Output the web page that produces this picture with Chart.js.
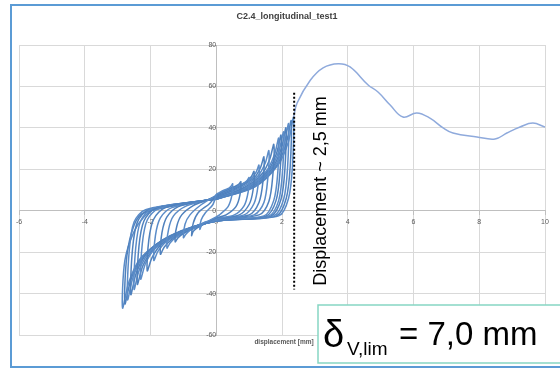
<!DOCTYPE html>
<html>
<head>
<meta charset="utf-8">
<script src="https://cdn.jsdelivr.net/npm/chart.js@4/dist/chart.umd.min.js"></script>
<style>
  html, body { margin: 0; padding: 0; background: #fff; }
  canvas { display: block; }
</style>
</head>
<body>
<canvas id="loopChart" width="560" height="370"></canvas>
<script>
// Zyklen (Weg in mm, Kraft in kN)
var loopDisp = [
  [0, 0.25, 0.4, 0.46, 0.5, 0.47, 0.36, 0.1, 0, -0.25, -0.4, -0.46, -0.5, -0.46, -0.33, -0.1, 0],
  [0, 0.38, 0.6, 0.7, 0.75, 0.72, 0.6, 0.3, 0, -0.38, -0.6, -0.7, -0.75, -0.7, -0.55, -0.2, 0],
  [0, 0.5, 0.8, 0.93, 1.0, 0.97, 0.85, 0.55, 0, -0.5, -0.8, -0.93, -1.0, -0.95, -0.8, -0.45, 0],
  [0, 0.58, 0.92, 1.07, 1.15, 1.12, 1.0, 0.7, 0, -0.62, -1.0, -1.16, -1.25, -1.2, -1.05, -0.7, -0.3, 0],
  [0, 0.65, 1.04, 1.21, 1.3, 1.27, 1.15, 0.85, 0, -0.75, -1.2, -1.4, -1.5, -1.45, -1.3, -0.95, -0.3, 0],
  [0, 0.72, 1.16, 1.35, 1.45, 1.42, 1.3, 1.0, 0, -0.85, -1.36, -1.58, -1.7, -1.65, -1.5, -1.15, -0.3, 0],
  [0, 0.8, 1.28, 1.49, 1.6, 1.57, 1.45, 1.15, 0, -0.95, -1.52, -1.77, -1.9, -1.85, -1.7, -1.35, -0.3, 0],
  [0, 0.88, 1.4, 1.63, 1.75, 1.72, 1.6, 1.3, 0, -1.05, -1.68, -1.95, -2.1, -2.05, -1.9, -1.55, -0.3, 0],
  [0, 0.95, 1.52, 1.77, 1.9, 1.87, 1.75, 1.45, 0, -1.15, -1.84, -2.14, -2.3, -2.25, -2.1, -1.75, -0.3, 0],
  [0, 0.98, 1.58, 1.84, 1.97, 1.94, 1.82, 1.52, 0, -1.2, -1.92, -2.23, -2.4, -2.35, -2.2, -1.85, -0.3, 0],
  [0, 1.02, 1.64, 1.91, 2.05, 2.02, 1.9, 1.6, 0, -1.25, -2.0, -2.33, -2.5, -2.45, -2.3, -1.95, -0.3, 0],
  [0, 1.06, 1.7, 1.98, 2.12, 2.09, 1.97, 1.67, 0, -1.3, -2.08, -2.42, -2.6, -2.55, -2.4, -2.05, -0.3, 0],
  [0, 1.1, 1.76, 2.05, 2.2, 2.17, 2.05, 1.75, 0, -1.35, -2.16, -2.51, -2.7, -2.65, -2.5, -2.15, -0.3, 0],
  [0, 1.14, 1.82, 2.12, 2.28, 2.25, 2.13, 1.83, 0, -1.4, -2.22, -2.58, -2.78, -2.72, -2.5, -2.2, -0.3, 0],
  [0, 1.18, 1.88, 2.19, 2.35, 2.32, 2.2, 1.9, 0, -1.42, -2.28, -2.65, -2.85, -2.78, -2.5, -2.2, -1.8, -0.3, 0]
];
var loopForce = [
  [8, 10, 11, 12, 13, 7, 2, -2, -3, -5, -6, -7.5, -9, -4.5, -1, 3, 8],
  [7.5, 10.5, 12, 13, 14, 7.5, 2, -2, -3.5, -6.5, -8.5, -10, -12, -6, -1, 3.5, 7.5],
  [7.5, 11, 13, 14.5, 16, 9, 2.5, -2, -4, -7.5, -9.5, -11.5, -13, -6.5, -2, 3, 7.5],
  [7, 11, 14, 16.5, 19, 10, 3, -2, -4, -8, -11, -13, -15, -7.5, -2, 2.5, 5, 7],
  [7, 11.5, 15, 18.5, 22, 12, 3.5, -2, -4, -8.5, -12.5, -15.5, -18, -9, -2.5, 2, 5, 7],
  [6.5, 11.5, 16, 21, 26, 14, 4, -2, -4, -9, -14, -17.5, -21, -10.5, -3, 2, 5, 6.5],
  [6.5, 11.5, 17, 23, 29, 16, 4, -2, -4.5, -10, -15, -19.5, -24, -12, -3.5, 1.5, 5, 6.5],
  [6, 11.5, 18, 25, 32, 17, 4.5, -2, -4.5, -10.5, -16.5, -22.5, -29, -14, -4, 1.5, 5, 6],
  [6, 11.5, 19, 27, 35, 18, 5, -2.5, -4.5, -11, -18, -25, -33, -16, -4.5, 1, 5, 6],
  [6, 11.5, 19.5, 28, 36.5, 19, 5, -2.5, -5, -11, -19, -26.5, -35.5, -17, -5, 1, 5, 6],
  [6, 11.5, 20, 29, 38, 20, 5, -2.5, -5, -11.5, -19.5, -28, -38, -18, -5, 1, 5, 6],
  [5.5, 11.5, 20.5, 30, 40, 20.5, 5.5, -2.5, -5, -11.5, -20, -29.5, -40.5, -19, -5.5, 0.5, 5, 5.5],
  [5.5, 11.5, 21, 31, 42, 21, 5.5, -2.5, -5, -12, -21, -31, -43, -20, -5.5, 0.5, 5, 5.5],
  [5.5, 11.5, 21.5, 32, 43.5, 21.5, 6, -2.5, -5, -12, -22, -32.5, -45, -22, -7, -1, 5, 5.5],
  [5.5, 11.5, 22, 33, 45, 22, 6, -2.5, -5, -12.5, -22.5, -34, -47, -24, -10, -3, 1.5, 5, 5.5]
];

// Ast nach dem letzten Zyklus
var tailDisp = [2.35, 2.46, 2.86, 3.25, 3.71, 4.07, 4.62, 4.92, 5.29, 5.68, 6.1, 6.5, 6.9, 7.2, 7.93, 8.48, 8.84, 9.24, 9.63, 10];
var tailForce = [45, 52, 63, 69, 71, 69.4, 60.7, 57.3, 51, 45.2, 47.2, 44.7, 40, 37.5, 35.6, 34.6, 37.5, 40.4, 42.3, 40.4];

// gestrichelte Markierung bei ~2,5 mm
var markDisp = [2.37, 2.37];
var markForce = [57, -38];

var xTicks = [-6, -4, -2, 0, 2, 4, 6, 8, 10];
var yTicks = [-60, -40, -20, 0, 20, 40, 60, 80];

function toPoints(xs, ys) {
  return xs.map(function (x, i) { return { x: x, y: ys[i] }; });
}

var datasets = [{
  data: toPoints(markDisp, markForce),
  showLine: true,
  borderColor: '#000000',
  borderWidth: 2,
  borderDash: [2, 2],
  pointRadius: 0,
  order: 0
}];

loopDisp.forEach(function (xs, i) {
  datasets.push({
    data: toPoints(xs, loopForce[i]),
    showLine: true,
    borderColor: i % 2 ? '#4f81bd' : '#5b8cc8',
    borderWidth: 1.5,
    pointRadius: 0,
    tension: 0.3,
    order: 2
  });
});

datasets.push({
  data: toPoints(tailDisp, tailForce),
  showLine: true,
  borderColor: '#8faadc',
  borderWidth: 1.5,
  pointRadius: 0,
  tension: 0.4,
  order: 1
});

var decor = {
  id: 'decor',
  beforeDraw: function (chart) {
    var ctx = chart.ctx;
    ctx.save();
    ctx.fillStyle = '#ffffff';
    ctx.fillRect(0, 0, chart.width, chart.height);
    ctx.restore();
  },
  afterDraw: function (chart) {
    var ctx = chart.ctx;
    ctx.save();
    // titre
    ctx.fillStyle = '#404040';
    ctx.font = 'bold 9px "Liberation Sans", Arial, sans-serif';
    ctx.textAlign = 'center';
    ctx.textBaseline = 'middle';
    ctx.fillText('C2.4_longitudinal_test1', 287, 17);
    // axis title
    ctx.fillStyle = '#595959';
    ctx.font = 'bold 6.5px "Liberation Sans", Arial, sans-serif';
    ctx.fillText('displacement [mm]', 284, 342);

    // rotated note
    ctx.save();
    ctx.translate(326, 191);
    ctx.rotate(-Math.PI / 2);
    ctx.fillStyle = '#000000';
    ctx.font = '18px "Liberation Sans", Arial, sans-serif';
    ctx.textAlign = 'center';
    ctx.textBaseline = 'alphabetic';
    ctx.fillText('Displacement ~ 2,5 mm', 0, 0);
    ctx.restore();

    // box bottom right
    ctx.fillStyle = '#ffffff';
    ctx.fillRect(318, 305, 250, 58);
    ctx.strokeStyle = '#86d6c3';
    ctx.lineWidth = 1.5;
    ctx.strokeRect(318, 305, 250, 58);
    ctx.fillStyle = '#000000';
    ctx.textAlign = 'left';
    ctx.textBaseline = 'alphabetic';
    ctx.font = '38px "Liberation Sans", Arial, sans-serif';
    ctx.fillText('\u03b4', 323, 347);
    ctx.font = '19px "Liberation Sans", Arial, sans-serif';
    ctx.fillText('V,lim', 347, 355);
    ctx.font = '33px "Liberation Sans", Arial, sans-serif';
    ctx.fillText('= 7,0 mm', 399, 345);

    // frame
    ctx.strokeStyle = '#5b9bd5';
    ctx.lineWidth = 2;
    ctx.strokeRect(11, 5, 560, 362);
    ctx.restore();
  }
};

var tickFont = { family: '"Liberation Sans", Arial, sans-serif', size: 7 };

new Chart(document.getElementById('loopChart'), {
  type: 'scatter',
  data: { datasets: datasets },
  options: {
    responsive: false,
    animation: false,
    devicePixelRatio: 1,
    layout: { padding: { left: 19, right: 15, top: 45, bottom: 35 } },
    plugins: {
      legend: { display: false },
      tooltip: { enabled: false },
      title: { display: false }
    },
    scales: {
      x: {
        type: 'linear',
        min: xTicks[0],
        max: xTicks[xTicks.length - 1],
        position: { y: 0 },
        afterBuildTicks: function (axis) { axis.ticks = xTicks.map(function (v) { return { value: v }; }); },
        ticks: { font: tickFont, color: '#595959', padding: 3, maxRotation: 0, autoSkip: false },
        grid: { color: '#d9d9d9', lineWidth: 1, tickLength: 4, tickColor: '#bfbfbf' },
        border: { color: '#bfbfbf' }
      },
      y: {
        type: 'linear',
        min: yTicks[0],
        max: yTicks[yTicks.length - 1],
        position: { x: 0 },
        afterBuildTicks: function (axis) { axis.ticks = yTicks.map(function (v) { return { value: v }; }); },
        ticks: { font: tickFont, color: '#595959', padding: 3, autoSkip: false },
        grid: { color: '#d9d9d9', lineWidth: 1, tickLength: 4, tickColor: '#bfbfbf' },
        border: { color: '#bfbfbf' }
      }
    }
  },
  plugins: [decor]
});
</script>
</body>
</html>
